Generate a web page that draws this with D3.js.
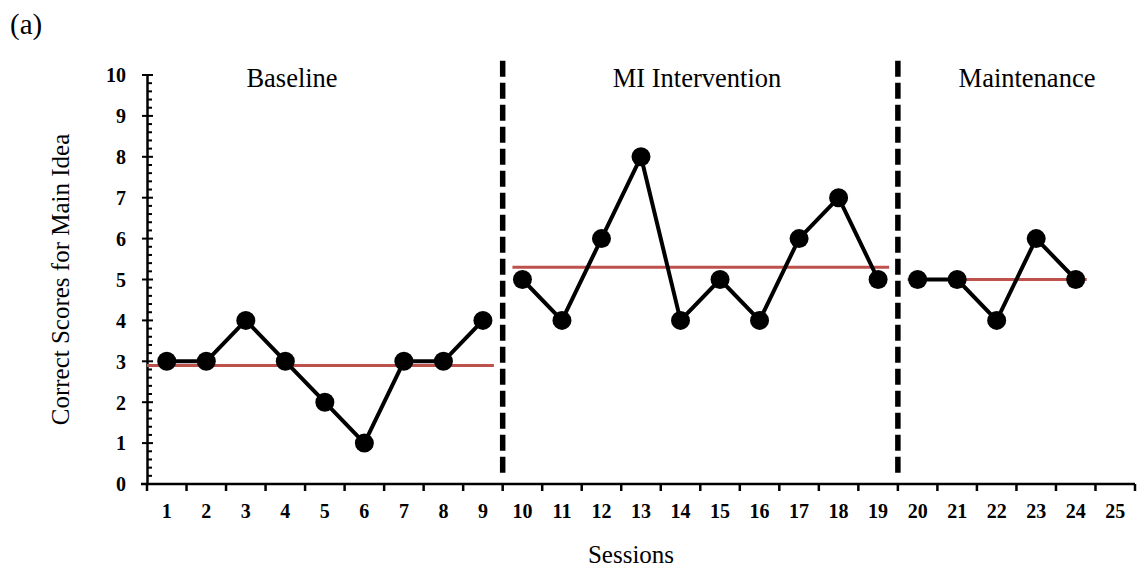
<!DOCTYPE html>
<html>
<head>
<meta charset="utf-8">
<script src="https://cdn.jsdelivr.net/npm/d3@7"></script>
<style>
  html, body { margin: 0; padding: 0; background: #fff; }
  svg { display: block; }
  text { font-family: "Liberation Serif", "Times New Roman", serif; fill: #000; }
</style>
</head>
<body>
<svg id="chart" width="1140" height="571"></svg>
<script>
// Sessions on the x axis
const sessions = d3.range(1, 26);
const sessionLabels = sessions.map(String);

// Phase data: session numbers and main-idea scores
const phaseNames = ["Baseline", "MI Intervention", "Maintenance"];
const baselineSessions = [1, 2, 3, 4, 5, 6, 7, 8, 9];
const baselineScores = [3, 3, 4, 3, 2, 1, 3, 3, 4];
const interventionSessions = [10, 11, 12, 13, 14, 15, 16, 17, 18, 19];
const interventionScores = [5, 4, 6, 8, 4, 5, 4, 6, 7, 5];
const maintenanceSessions = [20, 21, 22, 23, 24];
const maintenanceScores = [5, 5, 4, 6, 5];

// Phase mean levels (red lines)
const phaseMeans = [2.9, 5.3, 5.0];

// Phase-change lines fall between these sessions
const phaseChangeAfter = [9, 19];

// Y tick labels
const yTicks = [0, 1, 2, 3, 4, 5, 6, 7, 8, 9, 10];

const svg = d3.select("#chart");
const plotLeft = 147, plotRight = 1135, plotTop = 75, plotBottom = 484;

const x = d3.scaleBand().domain(sessions).range([plotLeft, plotRight]);
const y = d3.scaleLinear().domain([0, 10]).range([plotBottom, plotTop]);

// Panel tag
svg.append("text").attr("x", 10).attr("y", 34)
  .style("font-size", "29px").text("(a)");

// Y axis
const yAxis = d3.axisLeft(y).tickValues(yTicks).tickSize(0).tickPadding(21)
  .tickFormat(d3.format("d"));
const gy = svg.append("g").attr("transform", `translate(${plotLeft},0)`).call(yAxis);
gy.attr("font-family", null).attr("font-size", null);
gy.select(".domain").attr("stroke", "#000").attr("stroke-width", 2.5);
gy.selectAll(".tick text").style("font-size", "20px").style("font-weight", "bold")
  .attr("dy", "0.34em");

// Minor ticks every 0.2 (right side), major ticks across the axis
const minor = d3.range(0, 10.001, 0.2).filter(v => Math.abs(v - Math.round(v)) > 1e-6);
svg.append("g").selectAll("line").data(minor).join("line")
  .attr("x1", plotLeft).attr("x2", plotLeft + 5)
  .attr("y1", d => y(d)).attr("y2", d => y(d))
  .attr("stroke", "#000").attr("stroke-width", 2);
svg.append("g").selectAll("line").data(yTicks).join("line")
  .attr("x1", plotLeft - 5).attr("x2", plotLeft + 6)
  .attr("y1", d => y(d)).attr("y2", d => y(d))
  .attr("stroke", "#000").attr("stroke-width", 2);

// X axis: ticks at band boundaries, labels centred in each band
const xEdges = d3.scaleLinear().domain([0, sessions.length]).range([plotLeft, plotRight]);
const gx = svg.append("g");
gx.append("line").attr("x1", plotLeft - 6).attr("x2", plotRight)
  .attr("y1", plotBottom).attr("y2", plotBottom)
  .attr("stroke", "#000").attr("stroke-width", 2.5);
gx.selectAll("line.tick").data(d3.range(0, sessions.length + 1)).join("line")
  .attr("class", "tick")
  .attr("x1", d => xEdges(d)).attr("x2", d => xEdges(d))
  .attr("y1", plotBottom).attr("y2", plotBottom + 7)
  .attr("stroke", "#000").attr("stroke-width", 2.5);
gx.selectAll("text").data(sessions).join("text")
  .attr("x", d => x(d) + x.bandwidth() / 2)
  .attr("y", plotBottom + 34)
  .attr("text-anchor", "middle")
  .style("font-size", "20px").style("font-weight", "bold")
  .text((d, i) => sessionLabels[i]);

// Axis titles
svg.append("text")
  .attr("transform", `translate(69, ${(plotTop + plotBottom) / 2}) rotate(-90)`)
  .attr("text-anchor", "middle").style("font-size", "25px")
  .text("Correct Scores for Main Idea");
svg.append("text").attr("x", 631).attr("y", 563)
  .attr("text-anchor", "middle").style("font-size", "25px").text("Sessions");

// Phase-change lines
svg.append("g").selectAll("line").data(phaseChangeAfter).join("line")
  .attr("x1", d => xEdges(d)).attr("x2", d => xEdges(d))
  .attr("y1", y(10.35)).attr("y2", y(0.15))
  .attr("stroke", "#000").attr("stroke-width", 5.5)
  .attr("stroke-dasharray", "16,6");

// Phase labels
const phaseLabelX = [292, 697, 1027];
svg.append("g").selectAll("text").data(phaseNames).join("text")
  .attr("x", (d, i) => phaseLabelX[i]).attr("y", 87)
  .attr("text-anchor", "middle").style("font-size", "26.5px")
  .text(d => d);

// Data series
const phases = [
  { s: baselineSessions, v: baselineScores },
  { s: interventionSessions, v: interventionScores },
  { s: maintenanceSessions, v: maintenanceScores }
];
const cx = s => x(s) + x.bandwidth() / 2;

// Mean lines
const meanSpans = phases.map((p, i) => ({
  x1: i === 0 ? plotLeft : cx(p.s[0]) - 10,
  x2: cx(p.s[p.s.length - 1]) + 11,
  m: phaseMeans[i]
}));
svg.append("g").selectAll("line").data(meanSpans).join("line")
  .attr("x1", d => d.x1).attr("x2", d => d.x2)
  .attr("y1", d => y(d.m)).attr("y2", d => y(d.m))
  .attr("stroke", "#bd524d").attr("stroke-width", 3);

const line = d3.line().x(d => cx(d[0])).y(d => y(d[1]));
phases.forEach(p => {
  const pts = p.s.map((s, i) => [s, p.v[i]]);
  svg.append("path").datum(pts).attr("d", line)
    .attr("fill", "none").attr("stroke", "#000").attr("stroke-width", 4)
    .attr("stroke-linejoin", "round");
  svg.append("g").selectAll("circle").data(pts).join("circle")
    .attr("cx", d => cx(d[0])).attr("cy", d => y(d[1])).attr("r", 9.5)
    .attr("fill", "#000");
});
</script>
</body>
</html>
